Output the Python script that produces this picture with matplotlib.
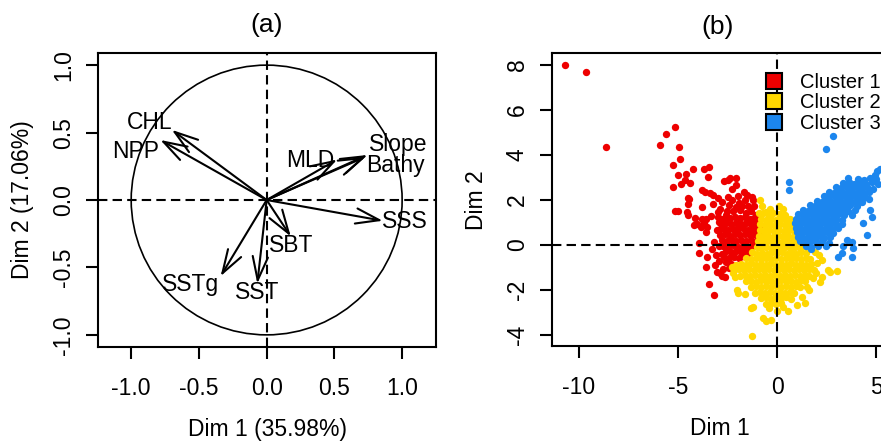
import numpy as np
import matplotlib
matplotlib.use("Agg")
import matplotlib.pyplot as plt
from matplotlib.patches import Circle
from matplotlib.lines import Line2D

plt.rcParams['font.family'] = ['Liberation Sans', 'DejaVu Sans']
plt.rcParams['axes.unicode_minus'] = False

# ---- panel (a): variable loadings on Dim 1 / Dim 2
var_names = ["CHL", "NPP", "MLD", "Slope", "Bathy", "SSS", "SBT", "SSTg", "SST"]
dim1 = [-0.70, -0.785, 0.52, 0.745, 0.73, 0.857, 0.178, -0.34, -0.069]
dim2 = [0.52, 0.445, 0.30, 0.334, 0.32, -0.154, -0.27, -0.565, -0.62]

# where each label sits (layout, not data)
label_pos = {
    "CHL": (-0.864, 0.574), "NPP": (-0.965, 0.359), "MLD": (0.324, 0.292),
    "Slope": (0.973, 0.41), "Bathy": (0.948, 0.257), "SSS": (1.022, -0.163),
    "SBT": (0.178, -0.339), "SSTg": (-0.563, -0.629), "SST": (-0.069, -0.685),
}

# ---- panel (b): individuals coloured by cluster
cluster1 = [
    (-10.71, 8.0), (-9.65, 7.67), (-8.64, 4.37), (-5.91, 4.46), (-5.61, 4.93), (-5.17, 5.24),
    (-4.93, 4.36), (-4.88, 3.82), (-5.27, 3.57), (-5.02, 3.13), (-4.61, 3.17), (-4.26, 3.36),
    (-3.70, 3.36), (-3.45, 3.46), (-3.50, 3.04), (-4.65, 2.87), (-4.87, 2.70), (-4.39, 2.76),
    (-5.25, 2.58), (-3.80, 2.44), (-3.63, 2.37), (-3.38, 2.30), (-3.24, 2.23), (-4.52, 2.09),
    (-4.44, 2.03), (-2.96, 2.10), (-4.48, 1.80), (-3.77, 1.70), (-3.22, 1.82), (-5.17, 1.51),
    (-4.99, 1.52), (-4.53, 1.48), (-4.48, 1.31), (-4.12, 1.18), (-4.02, 0.93), (-4.18, 0.88),
    (-3.81, 1.14), (-3.59, 1.17), (-3.69, 0.97), (-3.82, 0.80), (-3.52, 0.78), (-3.60, 0.56),
    (-3.05, 0.66), (-3.35, 1.30), (-3.00, 1.45),
    (-2.47, 2.89), (-2.40, 2.96), (-2.05, 2.97), (-2.06, 2.67), (-2.30, 2.47), (-2.69, 2.83),
    (-2.50, 2.15), (-1.95, 2.18), (-1.66, 2.37), (-1.53, 2.22), (-1.29, 2.15), (-1.21, 2.01),
    (-1.46, 1.71), (-1.62, 1.99), (-1.93, 1.88), (-2.07, 1.69), (-2.41, 1.76), (-2.52, 1.52),
    (-2.86, 1.58), (-2.98, 1.24), (-2.93, 1.04), (-2.71, 1.16), (-2.22, 1.49), (-1.85, 1.57),
    (-1.58, 1.44), (-1.31, 1.52), (-1.07, 1.33), (-2.76, 1.92), (-2.28, 2.02), (-1.78, 1.72),
    (-1.15, 1.75), (-2.60, 1.35),
    (-2.62, 1.22), (-2.37, 1.18), (-2.12, 1.25), (-1.88, 1.20), (-1.63, 1.26), (-1.38, 1.17),
    (-1.14, 1.21), (-0.95, 1.10), (-2.83, 0.93), (-2.58, 0.97), (-2.33, 0.91), (-2.08, 0.98),
    (-1.84, 0.94), (-1.59, 0.99), (-1.34, 0.92), (-1.10, 0.96), (-0.90, 0.85), (-2.92, 0.68),
    (-2.70, 0.72), (-2.46, 0.66), (-2.21, 0.73), (-1.96, 0.69), (-1.71, 0.74), (-1.46, 0.67),
    (-1.22, 0.71), (-0.98, 0.65), (-2.88, 0.44), (-2.62, 0.48), (-2.37, 0.42), (-2.13, 0.47),
    (-1.88, 0.43), (-1.63, 0.49), (-1.38, 0.44), (-1.14, 0.47), (-0.92, 0.40), (-2.80, 0.21),
    (-2.55, 0.17), (-2.30, 0.23), (-2.05, 0.18), (-1.80, 0.22), (-1.55, 0.16), (-1.30, 0.21),
    (-1.07, 0.18), (-2.71, -0.04), (-2.46, -0.08), (-2.22, -0.02), (-1.97, -0.07), (-1.72, -0.03),
    (-1.47, -0.09), (-1.24, -0.05), (-2.58, -0.29), (-2.33, -0.33), (-2.09, -0.27), (-1.84, -0.32),
    (-1.60, -0.28), (-1.40, -0.35), (-2.66, -0.55), (-2.42, -0.58), (-2.16, -0.52), (-1.93, -0.57),
    (-1.70, -0.50),
    (-3.92, 0.10), (-3.95, -0.35), (-3.55, -0.53), (-3.57, -0.96), (-3.13, -0.89), (-3.05, -1.19),
    (-2.80, -1.37), (-2.62, -1.41), (-2.86, -1.23), (-3.43, -1.74), (-3.18, -2.22), (-2.77, -0.40),
    (-2.92, -0.70), (-2.58, -0.77), (-2.44, -1.02), (-2.71, -1.08), (-3.30, -0.20), (-3.18, 0.12),
    (-2.33, -0.86), (-3.10, -0.45), (-2.95, -0.05),
]

cluster2 = [
    (-0.86, 2.0), (-0.77, 1.71), (0.08, 1.73), (-0.36, 1.62), (0.30, 1.58), (-0.58, 1.48),
    (-0.92, 1.40), (-0.72, 1.42), (-0.45, 1.36), (-0.18, 1.41), (0.10, 1.37), (0.38, 1.33),
    (-0.80, 1.17), (-0.55, 1.12), (-0.30, 1.16), (-0.05, 1.11), (0.20, 1.15),
    (0.45, 1.10), (0.66, 1.16),
    (-0.85, 0.92), (-0.60, 0.87), (-0.36, 0.91), (-0.11, 0.86), (0.14, 0.92),
    (0.39, 0.88), (0.63, 0.91), (0.85, 0.85),
    (-0.86, 0.67), (-0.64, 0.62), (-0.40, 0.66), (-0.15, 0.61), (0.10, 0.67),
    (0.35, 0.63), (0.60, 0.66), (0.84, 0.62), (1.00, 0.70),
    (-0.90, 0.42), (-0.69, 0.37), (-0.44, 0.41), (-0.20, 0.36), (0.05, 0.42),
    (0.30, 0.38), (0.55, 0.41), (0.80, 0.37), (1.04, 0.40),
    (-0.95, 0.17), (-0.75, 0.12), (-0.50, 0.16), (-0.26, 0.11), (-0.01, 0.17),
    (0.24, 0.13), (0.49, 0.16), (0.74, 0.12), (0.98, 0.17), (1.20, 0.10),
    (-1.02, -0.08), (-0.83, -0.13), (-0.58, -0.09), (-0.33, -0.14), (-0.08, -0.07), (0.17, -0.12),
    (0.42, -0.08), (0.67, -0.13), (0.92, -0.09), (1.16, -0.12), (1.38, -0.06),
    (-1.27, -0.33), (-1.02, -0.38), (-0.77, -0.34), (-0.52, -0.39), (-0.27, -0.32), (-0.02, -0.37),
    (0.23, -0.33), (0.48, -0.38), (0.73, -0.34), (0.98, -0.39), (1.23, -0.33), (1.48, -0.37),
    (-1.55, -0.58), (-1.30, -0.63), (-1.05, -0.57), (-0.80, -0.62), (-0.55, -0.58), (-0.30, -0.63),
    (-0.05, -0.57), (0.20, -0.62), (0.45, -0.58), (0.70, -0.63), (0.95, -0.57), (1.20, -0.62),
    (1.45, -0.58), (1.68, -0.64),
    (-2.05, -0.87), (-1.80, -0.83), (-1.55, -0.88), (-1.30, -0.82), (-1.05, -0.87), (-0.80, -0.83),
    (-0.55, -0.88), (-0.30, -0.82), (-0.05, -0.87), (0.20, -0.83), (0.45, -0.88), (0.70, -0.82),
    (0.95, -0.87), (1.20, -0.83), (1.45, -0.88), (1.70, -0.84),
    (-2.15, -1.12), (-1.90, -1.08), (-1.65, -1.13), (-1.40, -1.07), (-1.15, -1.12), (-0.90, -1.08),
    (-0.65, -1.13), (-0.40, -1.07), (-0.15, -1.12), (0.10, -1.08), (0.35, -1.13), (0.60, -1.07),
    (0.85, -1.12), (1.10, -1.08), (1.35, -1.13), (1.60, -1.07), (1.85, -1.10),
    (-1.85, -1.37), (-1.60, -1.33), (-1.35, -1.38), (-1.10, -1.32), (-0.85, -1.37), (-0.60, -1.33),
    (-0.35, -1.38), (-0.10, -1.32), (0.15, -1.37), (0.40, -1.33), (0.65, -1.38), (0.90, -1.32),
    (1.15, -1.37), (1.40, -1.33), (1.62, -1.38),
    (-1.55, -1.62), (-1.30, -1.58), (-1.05, -1.63), (-0.80, -1.57), (-0.55, -1.62), (-0.30, -1.58),
    (-0.05, -1.63), (0.20, -1.57), (0.45, -1.62), (0.70, -1.58), (0.95, -1.63), (1.20, -1.57),
    (1.40, -1.62),
    (-1.30, -1.87), (-1.05, -1.83), (-0.80, -1.88), (-0.55, -1.82), (-0.30, -1.87), (-0.05, -1.83),
    (0.20, -1.88), (0.45, -1.82), (0.70, -1.87), (0.95, -1.83), (1.15, -1.88),
    (-1.10, -2.12), (-0.85, -2.08), (-0.60, -2.13), (-0.35, -2.07), (-0.10, -2.12), (0.15, -2.08),
    (0.40, -2.13), (0.65, -2.07), (0.88, -2.12),
    (-0.80, -2.37), (-0.55, -2.33), (-0.30, -2.38), (-0.05, -2.32), (0.20, -2.37), (0.45, -2.33),
    (0.68, -2.38), (-0.55, -2.62), (-0.30, -2.58), (-0.05, -2.63), (0.22, -2.57),
    (-1.28, -4.03), (-0.69, -3.26), (-0.55, -3.37), (-0.32, -3.33), (-1.20, -2.74), (-1.32, -2.78),
    (0.00, -2.92), (0.57, -2.94), (0.99, -2.67), (1.41, -2.56), (1.25, -2.30), (1.50, -1.85),
    (1.62, -2.02), (2.17, -1.63), (2.26, -1.41), (2.59, -1.11), (2.66, -1.22), (3.01, -1.14),
    (2.00, -0.81), (2.26, -0.67), (2.10, -0.45), (1.90, -0.30), (-2.04, -2.00), (-1.96, -2.13),
    (-1.62, -2.16), (-2.13, -1.41), (-2.30, -0.96), (-2.22, -1.25), (-0.40, -2.80), (0.30, -2.75),
    (1.80, -1.45), (1.95, -1.25),
]

cluster3 = [
    (2.81, 4.84), (2.47, 4.27), (0.61, 2.81), (0.61, 2.44), (5.07, 3.30), (5.20, 3.38),
    (4.95, 3.11), (4.78, 1.26), (4.36, 0.97), (4.53, 0.44), (3.77, 0.15), (3.85, -0.14),
    (3.27, -0.34), (3.10, -0.52), (3.77, -0.52), (3.52, 0.22), (4.70, 1.55), (4.62, 2.05),
    (3.35, -0.05), (1.70, -0.19),
    (3.57, 2.96), (4.10, 2.92), (4.39, 2.89), (4.70, 2.99), (4.98, 2.93),
    (3.32, 2.74), (3.63, 2.78), (3.91, 2.72), (4.18, 2.77), (4.47, 2.73), (4.79, 2.78), (5.10, 2.70),
    (2.98, 2.56), (3.24, 2.52), (3.51, 2.57), (3.77, 2.53), (4.02, 2.58), (4.27, 2.52), (4.56, 2.57),
    (4.84, 2.50),
    (2.62, 2.36), (2.87, 2.32), (3.12, 2.37), (3.38, 2.33), (3.62, 2.38), (3.87, 2.32), (4.12, 2.37),
    (4.37, 2.33), (4.63, 2.36),
    (2.38, 2.16), (2.64, 2.12), (2.91, 2.17), (3.16, 2.13), (3.42, 2.18), (3.66, 2.12), (3.92, 2.17),
    (4.17, 2.13), (4.44, 2.15),
    (2.02, 1.96), (2.27, 1.92), (2.52, 1.97), (2.77, 1.93), (3.02, 1.98), (3.27, 1.92), (3.52, 1.97),
    (3.77, 1.93), (4.02, 1.96), (4.28, 1.91),
    (1.68, 1.76), (1.93, 1.72), (2.18, 1.77), (2.43, 1.73), (2.68, 1.78), (2.93, 1.72), (3.18, 1.77),
    (3.43, 1.73), (3.70, 1.76), (4.05, 1.72),
    (1.32, 1.56), (1.57, 1.52), (1.82, 1.57), (2.07, 1.53), (2.32, 1.58), (2.57, 1.52), (2.82, 1.57),
    (3.07, 1.53), (3.32, 1.57), (3.60, 1.52), (3.92, 1.55),
    (1.08, 1.36), (1.33, 1.32), (1.58, 1.37), (1.83, 1.33), (2.08, 1.38), (2.33, 1.32), (2.58, 1.37),
    (2.83, 1.33), (3.08, 1.36), (3.40, 1.32), (3.76, 1.34),
    (0.98, 1.16), (1.23, 1.12), (1.48, 1.17), (1.73, 1.13), (1.98, 1.18), (2.23, 1.12), (2.48, 1.17),
    (2.73, 1.13), (3.00, 1.16), (3.30, 1.12),
    (0.93, 0.96), (1.18, 0.92), (1.43, 0.97), (1.68, 0.93), (1.93, 0.98), (2.18, 0.92), (2.43, 0.97),
    (2.68, 0.93), (2.98, 0.95), (3.28, 0.91),
    (0.98, 0.76), (1.23, 0.72), (1.48, 0.77), (1.73, 0.73), (1.98, 0.78), (2.23, 0.72), (2.48, 0.77),
    (2.78, 0.73), (3.08, 0.76),
    (1.03, 0.56), (1.28, 0.52), (1.53, 0.57), (1.78, 0.53), (2.03, 0.58), (2.28, 0.52), (2.53, 0.57),
    (2.83, 0.53),
    (1.08, 0.36), (1.33, 0.32), (1.58, 0.37), (1.83, 0.33), (2.08, 0.38), (2.38, 0.32), (2.68, 0.36),
    (1.18, 0.16), (1.43, 0.12), (1.68, 0.17), (1.98, 0.13), (2.28, 0.16), (2.62, 0.10),
    (1.48, -0.04), (1.73, -0.08), (2.08, -0.03), (2.45, -0.06),
]

cluster_labels = ["Cluster 1", "Cluster 2", "Cluster 3"]
cluster_colors = ["#EE0000", "#FFD700", "#1C86EE"]

fig = plt.figure(figsize=(8.81, 4.41), dpi=100)
dash = (0, (4.5, 2.5))

def style_axes(ax):
    for s in ax.spines.values():
        s.set_linewidth(1.5)
    ax.tick_params(direction='out', length=8.5, width=1.5, labelsize=16.5)
    ax.tick_params(axis='x', pad=13)
    ax.tick_params(axis='y', pad=8, labelrotation=90)
    for lab in ax.get_yticklabels():
        lab.set_va('center')

# ---------- (a)
ax1 = fig.add_axes([98 / 881, 94 / 441, 338 / 881, 294 / 441])
ax1.set_xlim(-1.245, 1.25)
ax1.set_ylim(-1.09, 1.09)
ax1.add_patch(Circle((0, 0), 1, fill=False, lw=1.2, color='black'))
ax1.axhline(0, color='black', lw=1.5, ls=dash)
ax1.axvline(0, color='black', lw=1.5, ls=dash)
for name, x, y in zip(var_names, dim1, dim2):
    ax1.annotate("", xy=(x, y), xytext=(0, 0),
                 arrowprops=dict(arrowstyle="->,head_length=17,head_width=5.5",
                                 mutation_scale=1, lw=1.5, color='black',
                                 shrinkA=0, shrinkB=0))
    lx, ly = label_pos[name]
    ax1.text(lx, ly, name, fontsize=16.5, ha='center', va='center')
ax1.set_xticks([-1, -0.5, 0, 0.5, 1])
ax1.set_xticklabels(["-1.0", "-0.5", "0.0", "0.5", "1.0"])
ax1.set_yticks([-1, -0.5, 0, 0.5, 1])
ax1.set_yticklabels(["-1.0", "-0.5", "0.0", "0.5", "1.0"])
style_axes(ax1)
ax1.text(0.5, 1.095, "(a)", transform=ax1.transAxes, ha='center', va='center', fontsize=19)
ax1.text(0.5, -0.282, "Dim 1 (35.98%)", transform=ax1.transAxes, ha='center', va='center', fontsize=16.5)
ax1.text(-0.222, 0.5, "Dim 2 (17.06%)", transform=ax1.transAxes, ha='center', va='center',
         rotation=90, fontsize=16.5)

# ---------- (b)
ax2 = fig.add_axes([551.7 / 881, 95 / 441, (883 - 551.7) / 881, 293 / 441])
ax2.set_xlim(-11.38, 5.35)
ax2.set_ylim(-4.49, 8.53)
for pts, col in zip([cluster1, cluster2, cluster3], cluster_colors):
    arr = np.array(pts)
    ax2.scatter(arr[:, 0], arr[:, 1], s=28, color=col, linewidths=0, zorder=2)
ax2.axhline(0, color='black', lw=1.5, ls=dash, zorder=3)
ax2.axvline(0, color='black', lw=1.5, ls=dash, zorder=3)
ax2.set_xticks([-10, -5, 0, 5])
ax2.set_yticks([-4, -2, 0, 2, 4, 6, 8])
style_axes(ax2)
ax2.spines['right'].set_visible(False)
handles = [Line2D([], [], marker='s', ls='none', markersize=11, markerfacecolor=c,
                  markeredgecolor='black', markeredgewidth=1.5) for c in cluster_colors]
ax2.legend(handles, cluster_labels, loc='center', bbox_to_anchor=(0.817, 0.83),
           frameon=False, fontsize=14.5, handlelength=1.0, handletextpad=0.75,
           labelspacing=0.08, borderpad=0, borderaxespad=0)
ax2.text(0.5, 1.09, "(b)", transform=ax2.transAxes, ha='center', va='center', fontsize=19)
ax2.text(0.508, -0.281, "Dim 1", transform=ax2.transAxes, ha='center', va='center', fontsize=16.5)
ax2.text(-0.228, 0.498, "Dim 2", transform=ax2.transAxes, ha='center', va='center',
         rotation=90, fontsize=16.5)

fig.savefig("out.png", dpi=100)
